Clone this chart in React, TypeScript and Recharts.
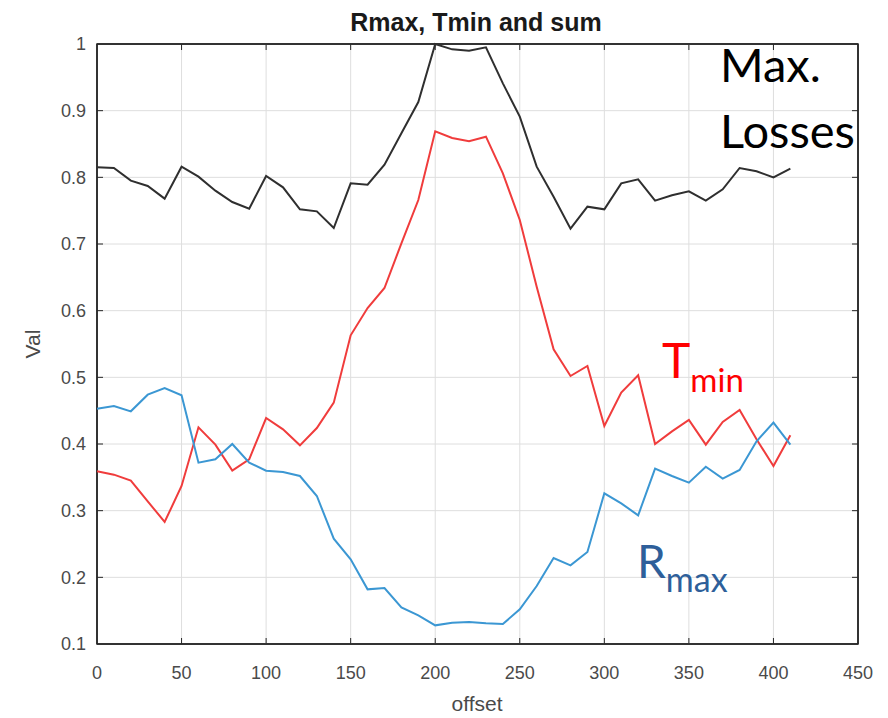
import React from 'react';
import { LineChart, Line, XAxis, YAxis, CartesianGrid, ReferenceArea } from 'recharts';

const offsets = [
  0, 10, 20, 30, 40, 50, 60, 70, 80, 90, 100, 110, 120, 130, 140, 150, 160, 170, 180, 190, 200,
  210, 220, 230, 240, 250, 260, 270, 280, 290, 300, 310, 320, 330, 340, 350, 360, 370, 380, 390, 400, 410,
];

const maxLosses = [
  0.815, 0.814, 0.795, 0.787, 0.768, 0.816, 0.801, 0.78, 0.763, 0.753, 0.802, 0.785, 0.752, 0.749,
  0.724, 0.791, 0.789, 0.819, 0.866, 0.913, 1.0, 0.992, 0.99, 0.995, 0.941, 0.891, 0.816, 0.771,
  0.723, 0.756, 0.752, 0.791, 0.797, 0.765, 0.773, 0.779, 0.765, 0.782, 0.814, 0.809, 0.8, 0.813,
];

const tMin = [
  0.359, 0.354, 0.345, 0.314, 0.283, 0.337, 0.425, 0.399, 0.36, 0.377, 0.439, 0.422, 0.398, 0.424,
  0.462, 0.563, 0.604, 0.634, 0.701, 0.766, 0.869, 0.859, 0.854, 0.861, 0.806, 0.736, 0.636, 0.542,
  0.502, 0.517, 0.427, 0.477, 0.503, 0.4, 0.419, 0.436, 0.399, 0.433, 0.451, 0.407, 0.367, 0.413,
];

const rMax = [
  0.453, 0.457, 0.449, 0.474, 0.484, 0.473, 0.372, 0.377, 0.4, 0.372, 0.36, 0.358, 0.352, 0.322,
  0.258, 0.227, 0.182, 0.184, 0.155, 0.143, 0.128, 0.132, 0.133, 0.131, 0.13, 0.152, 0.187, 0.229,
  0.218, 0.238, 0.326, 0.311, 0.293, 0.363, 0.352, 0.342, 0.366, 0.348, 0.361, 0.404, 0.432, 0.399,
];

const xTicks = [0, 50, 100, 150, 200, 250, 300, 350, 400, 450];
const yTicks = [0.1, 0.2, 0.3, 0.4, 0.5, 0.6, 0.7, 0.8, 0.9, 1];

const data = offsets.map((offset, i) => ({
  offset,
  rMax: rMax[i],
  tMin: tMin[i],
  maxLosses: maxLosses[i],
}));

const axisFont = "'Liberation Sans', Arial, sans-serif";
const noteFont = "Lato, 'Open Sans', sans-serif";
const boxColor = '#262626';
const gridColor = '#dedede';
const tickLen = 6;
const tickStyle = { fill: '#4a4a4a', fontSize: 18, fontFamily: axisFont };

const near = (a: number, b: number) => Math.abs(a - b) < 1;

// grid lines drawn by hand: edge lines become the axes box, inner lines get MATLAB style inward ticks
function HLine(props: any) {
  const { x1, x2, y1, y, height } = props;
  const left = Math.min(x1, x2);
  const right = Math.max(x1, x2);
  const edge = near(y1, y) || near(y1, y + height);
  if (edge) {
    return <line x1={left} x2={right} y1={y1} y2={y1} stroke={boxColor} strokeWidth={1.5} />;
  }
  return (
    <g>
      <line x1={left} x2={right} y1={y1} y2={y1} stroke={gridColor} />
      <line x1={left} x2={left + tickLen} y1={y1} y2={y1} stroke={boxColor} />
      <line x1={right - tickLen} x2={right} y1={y1} y2={y1} stroke={boxColor} />
    </g>
  );
}

function VLine(props: any) {
  const { x1, y1, y2, x, width } = props;
  const top = Math.min(y1, y2);
  const bottom = Math.max(y1, y2);
  const edge = near(x1, x) || near(x1, x + width);
  if (edge) {
    return <line x1={x1} x2={x1} y1={top} y2={bottom} stroke={boxColor} strokeWidth={1.5} />;
  }
  return (
    <g>
      <line x1={x1} x2={x1} y1={top} y2={bottom} stroke={gridColor} />
      <line x1={x1} x2={x1} y1={top} y2={top + tickLen} stroke={boxColor} />
      <line x1={x1} x2={x1} y1={bottom - tickLen} y2={bottom} stroke={boxColor} />
    </g>
  );
}

export default function App() {
  return (
    <div style={{ position: 'absolute', left: 0, top: 0, width: 888, height: 718, background: '#fff' }}>
      <LineChart
        width={888}
        height={718}
        data={data}
        margin={{ top: 44, right: 30, bottom: 0, left: 0 }}
      >
        <CartesianGrid horizontal={HLine} vertical={VLine} />
        <XAxis
          dataKey="offset"
          type="number"
          domain={[0, 450]}
          ticks={xTicks}
          height={74}
          axisLine={false}
          tickLine={false}
          tickSize={-6}
          tickMargin={28}
          tick={tickStyle}
        />
        <YAxis
          type="number"
          domain={[0.1, 1]}
          ticks={yTicks}
          width={97}
          axisLine={false}
          tickLine={false}
          tickSize={-6}
          tickMargin={17}
          tick={tickStyle}
          tickFormatter={(v: number) => String(Math.round(v * 10) / 10)}
        />
        <ReferenceArea x1={0} x2={450} y1={0.1} y2={1} fill="none" stroke={boxColor} strokeWidth={1.5} ifOverflow="visible" />
        <Line type="linear" dataKey="maxLosses" stroke="#2f2f2f" strokeWidth={2} dot={false} isAnimationActive={false} />
        <Line type="linear" dataKey="tMin" stroke="#f03c3c" strokeWidth={2} dot={false} isAnimationActive={false} />
        <Line type="linear" dataKey="rMax" stroke="#3b97d3" strokeWidth={2} dot={false} isAnimationActive={false} />
      </LineChart>

      <svg width={888} height={718} style={{ position: 'absolute', left: 0, top: 0, pointerEvents: 'none' }}>
        <text x={476} y={31} textAnchor="middle" fontFamily={axisFont} fontWeight="bold" fontSize={25} fill="#1a1a1a">
          Rmax, Tmin and sum
        </text>
        <text x={477} y={711} textAnchor="middle" fontFamily={axisFont} fontSize={21} fill="#4a4a4a">
          offset
        </text>
        <text
          x={0}
          y={0}
          transform="translate(40,344) rotate(-90)"
          textAnchor="middle"
          fontFamily={axisFont}
          fontSize={21}
          fill="#4a4a4a"
        >
          Val
        </text>
        <text x={720} y={82} fontFamily={noteFont} fontSize={47} fill="#000">Max.</text>
        <text x={720} y={148} fontFamily={noteFont} fontSize={47} fill="#000">Losses</text>
        <text x={662} y={378} fontFamily={noteFont} fontSize={48} fill="#ff0000">
          T<tspan fontSize={33} dy={14}>min</tspan>
        </text>
        <text x={637} y={578} fontFamily={noteFont} fontSize={46} fill="#2e5f9a">
          R<tspan fontSize={34} dy={14}>max</tspan>
        </text>
      </svg>
    </div>
  );
}
